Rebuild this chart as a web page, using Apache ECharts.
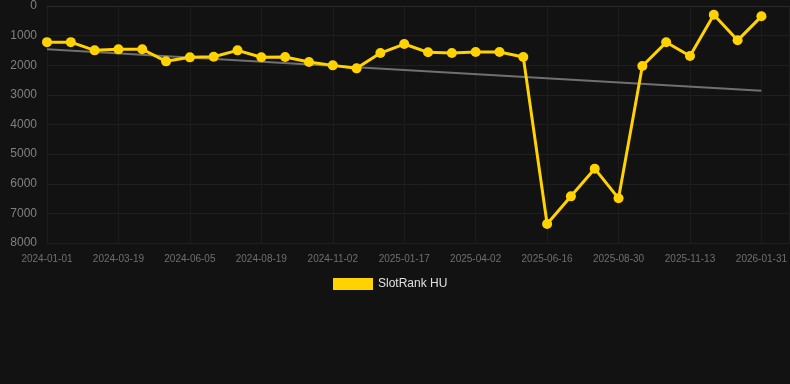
<!DOCTYPE html>
<html>
<head>
<meta charset="utf-8">
<script src="https://cdn.jsdelivr.net/npm/echarts@6/dist/echarts.min.js"></script>
<style>
html,body{margin:0;padding:0;background:#121212;}
#chart{width:790px;height:384px;}
</style>
</head>
<body>
<div id="chart"></div>
<script>
const dates = [
  '2024-01-01','2024-01-27','2024-02-22','2024-03-19','2024-04-14','2024-05-10',
  '2024-06-05','2024-06-30','2024-07-25','2024-08-19','2024-09-13','2024-10-08',
  '2024-11-02','2024-11-27','2024-12-22','2025-01-17','2025-02-11','2025-03-08',
  '2025-04-02','2025-04-27','2025-05-22','2025-06-16','2025-07-11','2025-08-05',
  '2025-08-30','2025-09-24','2025-10-19','2025-11-13','2025-12-09','2026-01-05',
  '2026-01-31'
];
const ranks = [
  1220, 1220, 1497, 1463, 1460, 1868, 1733, 1712, 1497, 1730,
  1723, 1892, 2004, 2105, 1588, 1284, 1564, 1588, 1554, 1554,
  1723, 7360, 6425, 5491, 6492, 2025, 1226, 1688, 293, 1159,
  349
];
const trendEnds = [1462, 2859];
const yTicks = [0, 1000, 2000, 3000, 4000, 5000, 6000, 7000, 8000];
const seriesName = 'SlotRank HU';

const chart = echarts.init(document.getElementById('chart'));
const lastIdx = dates.length - 1;
chart.setOption({
  backgroundColor: '#121212',
  animation: false,
  grid: { left: 47, right: 0, top: 6, bottom: 141 },
  legend: {
    data: [seriesName],
    top: 273,
    left: 328,
    itemWidth: 40,
    itemHeight: 12,
    itemGap: 6,
    icon: 'rect',
    textStyle: { color: '#e0e0e0', fontSize: 12, fontFamily: 'Arial, Liberation Sans, sans-serif' }
  },
  xAxis: {
    type: 'value',
    min: 0,
    max: lastIdx + 28 / (715 / lastIdx),
    interval: 3,
    axisLine: { show: true, lineStyle: { color: '#2a2a2a' } },
    axisTick: { show: false },
    splitLine: { show: true, lineStyle: { color: '#1c1c1c', width: 1 } },
    axisLabel: {
      color: '#6f6f6f',
      fontSize: 10,
      margin: 11,
      showMaxLabel: false,
      fontFamily: 'Arial, Liberation Sans, sans-serif',
      formatter: function (v) {
        const i = Math.round(v);
        return Math.abs(v - i) < 1e-6 && dates[i] ? dates[i] : '';
      }
    }
  },
  yAxis: {
    type: 'value',
    inverse: true,
    min: yTicks[0],
    max: yTicks[yTicks.length - 1],
    interval: yTicks[1] - yTicks[0],
    axisLine: { show: false },
    axisTick: { show: false },
    splitLine: { show: true, lineStyle: { color: '#1f1f1f', width: 1 } },
    axisLabel: {
      color: '#808080', fontSize: 12, margin: 10,
      fontFamily: 'Arial, Liberation Sans, sans-serif',
      formatter: function (v) { return String(v); }
    }
  },
  series: [
    {
      name: seriesName,
      type: 'line',
      data: ranks.map((v, i) => [i, v]),
      color: '#FFD200',
      lineStyle: { color: '#FFD200', width: 3 },
      itemStyle: { color: '#FFD200' },
      symbol: 'circle',
      symbolSize: 10,
      showSymbol: true,
      z: 3
    },
    {
      name: 'trend',
      type: 'line',
      data: [[0, trendEnds[0]], [lastIdx, trendEnds[1]]],
      lineStyle: { color: '#707070', width: 2 },
      itemStyle: { color: '#707070' },
      symbol: 'none',
      silent: true,
      z: 2
    }
  ]
});
</script>
</body>
</html>
